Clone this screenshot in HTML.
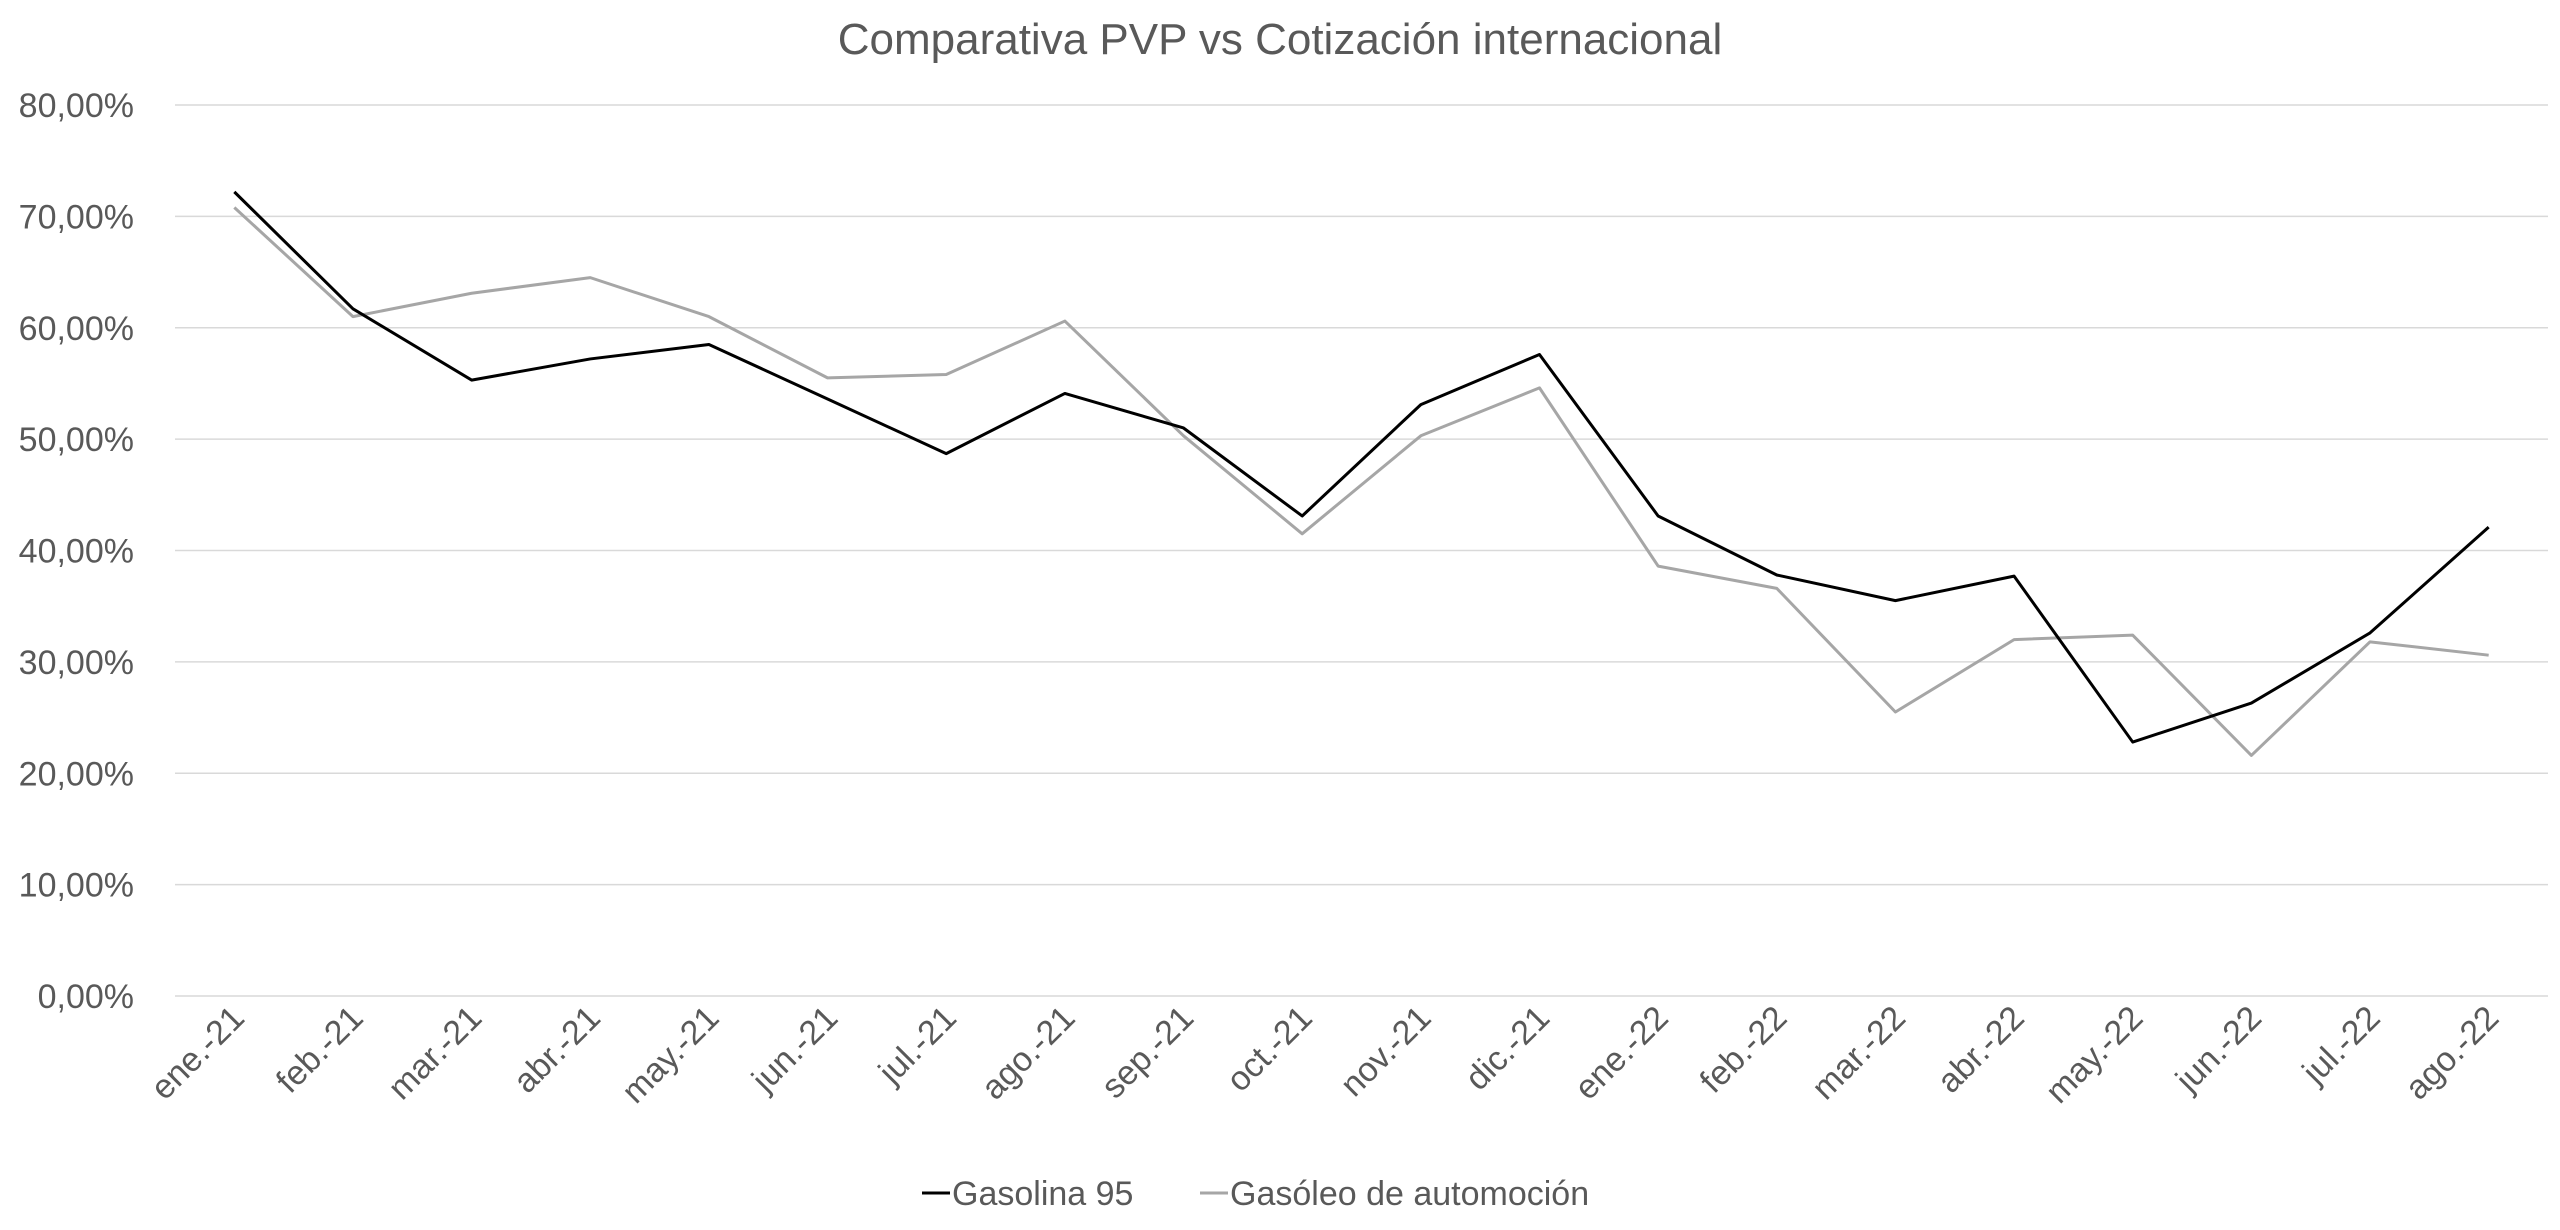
<!DOCTYPE html>
<html><head><meta charset="utf-8"><style>
html,body{margin:0;padding:0;background:#fff;}
svg{display:block;font-family:"Liberation Sans",sans-serif;}
</style></head><body>
<svg id="chart" width="2560" height="1230" viewBox="0 0 2560 1230" xmlns="http://www.w3.org/2000/svg">
<text x="1280" y="54" text-anchor="middle" font-size="44" fill="#595959">Comparativa PVP vs Cotización internacional</text>
<g id="grid"></g><g id="yticks"></g><g id="xticks"></g><g id="series"></g>
<g>
<line x1="922" y1="1193" x2="950" y2="1193" stroke="#000" stroke-width="3"/>
<text x="952" y="1205" font-size="34" fill="#595959">Gasolina 95</text>
<line x1="1200" y1="1193" x2="1228" y2="1193" stroke="#a6a6a6" stroke-width="3"/>
<text x="1230" y="1205" font-size="34" fill="#595959">Gasóleo de automoción</text>
</g>
</svg>
<script>
const categories = ["ene.-21","feb.-21","mar.-21","abr.-21","may.-21","jun.-21","jul.-21","ago.-21","sep.-21","oct.-21","nov.-21","dic.-21","ene.-22","feb.-22","mar.-22","abr.-22","may.-22","jun.-22","jul.-22","ago.-22"];
const gasolina = [72.2,61.7,55.3,57.2,58.5,53.6,48.7,54.1,51.0,43.1,53.1,57.6,43.1,37.8,35.5,37.7,22.8,26.3,32.6,42.1];
const gasoleo = [70.8,61.0,63.1,64.5,61.0,55.5,55.8,60.6,50.3,41.5,50.3,54.6,38.6,36.6,25.5,32.0,32.4,21.6,31.8,30.6];
const yTicks = [0,10,20,30,40,50,60,70,80];
const NS="http://www.w3.org/2000/svg";
const plotLeft=175,plotRight=2548,plotTop=105,plotBottom=996,yMax=80;
const step=(plotRight-plotLeft)/categories.length;
function xs(i){return plotLeft+step*(i+0.5);}
function ys(v){return plotBottom-(v/yMax)*(plotBottom-plotTop);}
const grid=document.getElementById('grid'),yt=document.getElementById('yticks'),xt=document.getElementById('xticks'),ser=document.getElementById('series');
yTicks.forEach(t=>{
  const l=document.createElementNS(NS,'line');
  
  
  l.setAttribute('x1',plotLeft);l.setAttribute('x2',plotRight);l.setAttribute('y1',ys(t));l.setAttribute('y2',ys(t));
  l.setAttribute('stroke','#d9d9d9');l.setAttribute('stroke-width','1.5');
  grid.appendChild(l);
  const tx=document.createElementNS(NS,'text');
  
  
  tx.setAttribute('x',134);tx.setAttribute('y',ys(t)+12);tx.setAttribute('text-anchor','end');
  tx.setAttribute('font-size','34');tx.setAttribute('fill','#595959');
  tx.textContent=t.toFixed(2).replace('.',',')+'%';
  yt.appendChild(tx);
});
categories.forEach((c,i)=>{
  const tx=document.createElementNS(NS,'text');
  
  
  const px=xs(i)+12,py=1020;
  tx.setAttribute('x',px);tx.setAttribute('y',py);tx.setAttribute('text-anchor','end');
  tx.setAttribute('transform','rotate(-45 '+px+' '+py+')');
  tx.setAttribute('font-size','34');tx.setAttribute('fill','#595959');
  tx.textContent=c;
  xt.appendChild(tx);
});
function drawLine(data,color,name){
  const p=document.createElementNS(NS,'polyline');
  
  
  p.setAttribute('points',data.map((v,i)=>xs(i)+','+ys(v)).join(' '));
  p.setAttribute('fill','none');p.setAttribute('stroke',color);p.setAttribute('stroke-width','3');
  p.setAttribute('stroke-linejoin','round');
  ser.appendChild(p);
}
drawLine(gasoleo,'#a6a6a6','series-gasoleo');
drawLine(gasolina,'#000000','series-gasolina-95');
</script>
</body></html>
